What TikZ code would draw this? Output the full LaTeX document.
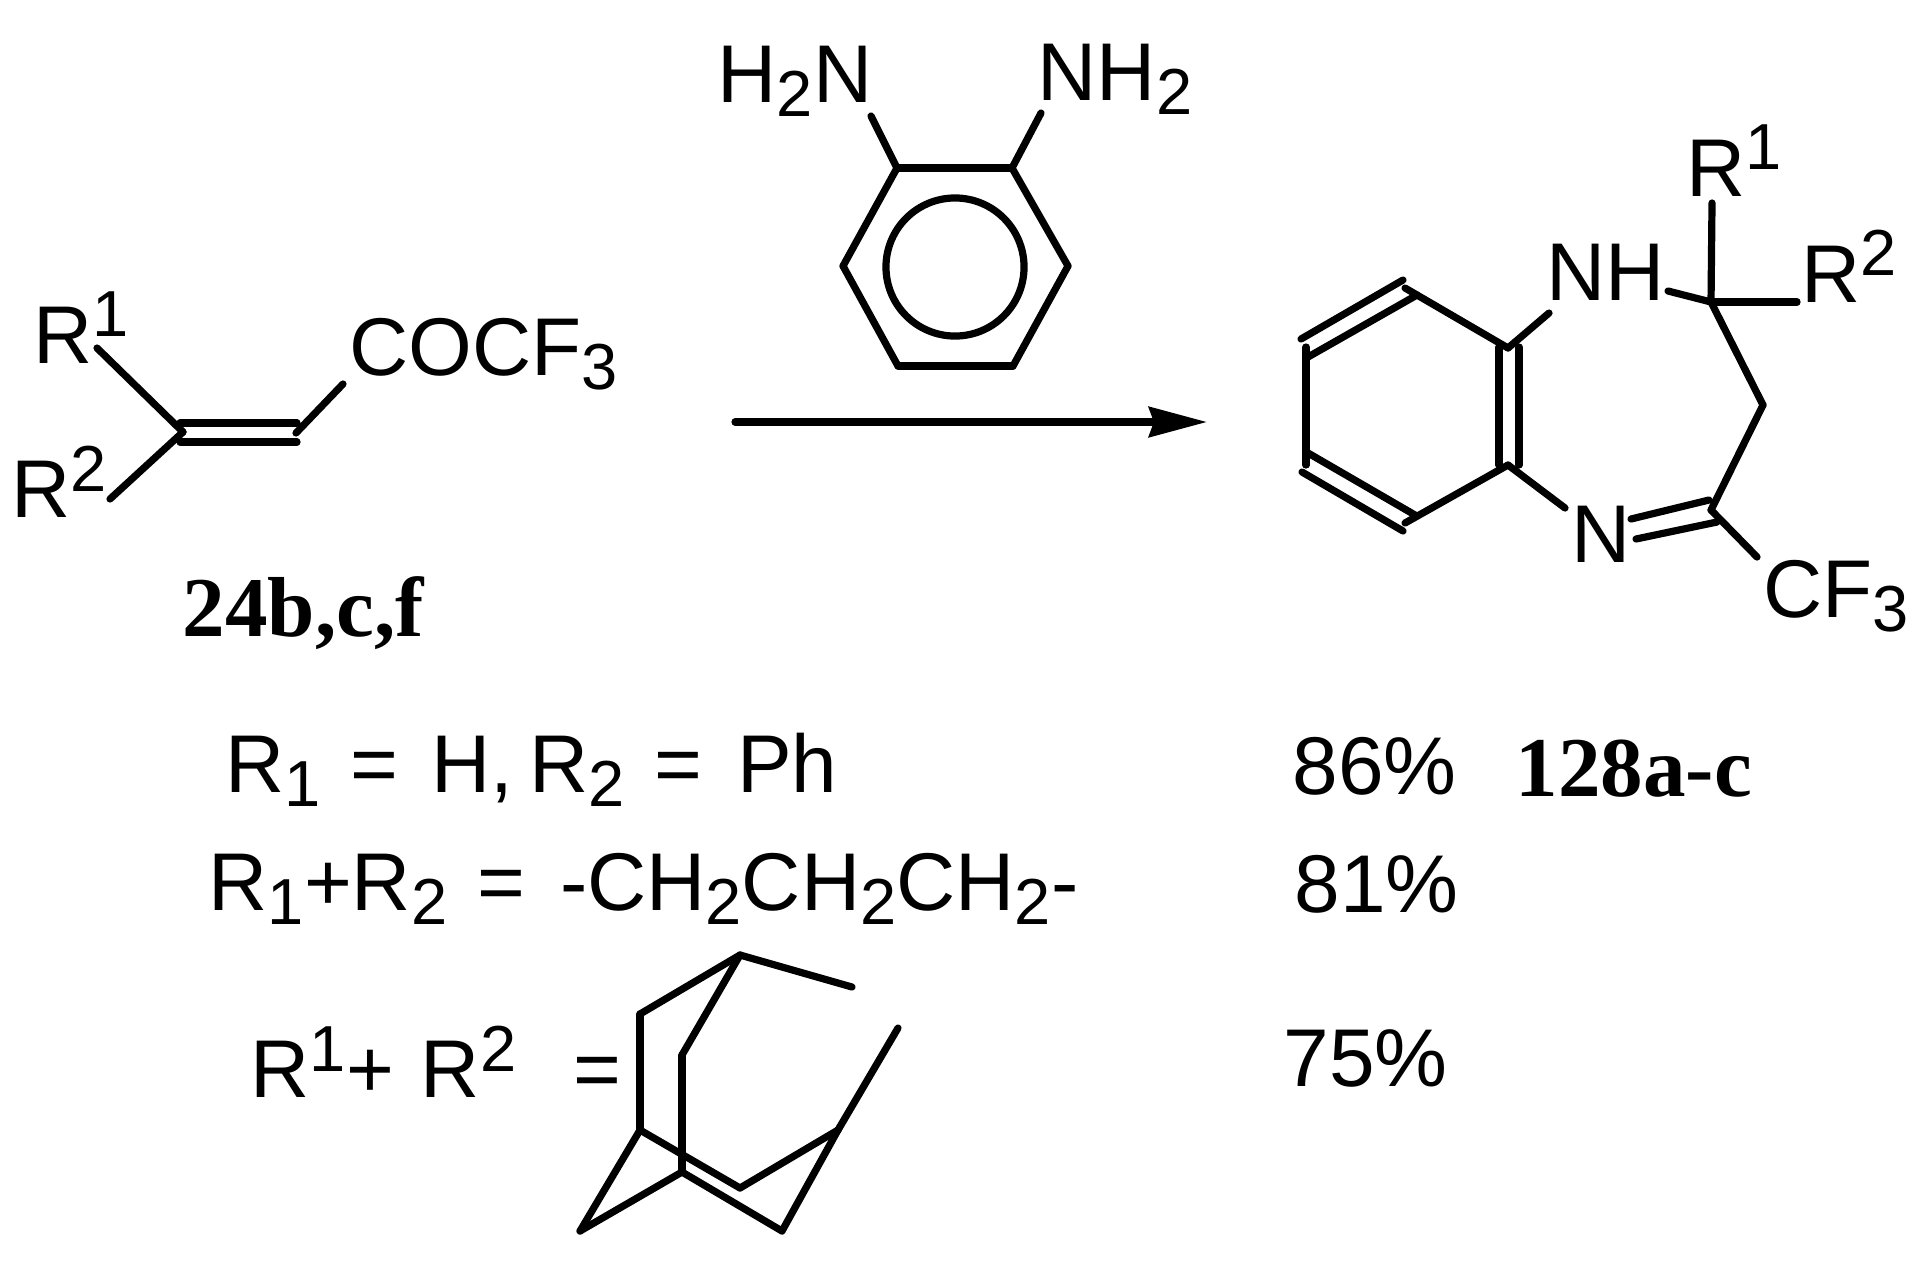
\documentclass[tikz,border=0pt]{standalone}
\usepackage{fontspec}
\setmainfont{Liberation Sans}
\newfontfamily\cmpdfont{Liberation Serif}[Scale=1]
\usetikzlibrary{arrows.meta}
\newcommand{\sbs}[1]{\raisebox{-.14cm}{\fontsize{18.5pt}{18.5pt}\selectfont #1}}
\newcommand{\sps}[1]{\raisebox{.26cm}{\fontsize{18.5pt}{18.5pt}\selectfont #1}}

\begin{document}
\begin{tikzpicture}
[x=.01cm,y=-.01cm]
\tikzset{lab/.style={anchor=base west,inner sep=0,font=\fontsize{23.3pt}{23.3pt}\selectfont}}
\tikzset{cmpd/.style={anchor=base west,inner sep=0,font=\cmpdfont\bfseries\fontsize{24.2pt}{24.2pt}\selectfont}}
\tikzset{bond/.style={line width=.072cm,line cap=round,line join=miter}}
\useasboundingbox (0,0) rectangle (1928,1275);

% enone
\coordinate (e1) at (183,432);
\coordinate (e2) at (97,348);
\coordinate (e3) at (110,499);
\coordinate (e4) at (180,423);
\coordinate (e5) at (297,423);
\coordinate (e6) at (180,442);
\coordinate (e7) at (297,442);
\coordinate (e8) at (296,433);
\coordinate (e9) at (343,384);
\node [lab] (r1a) at (33,363) {R\sps{1}};
\node [lab] (r2a) at (11,517) {R\sps{2}};
\node [lab] (cocf) at (349,375) {COCF\sbs{3}};
\node [cmpd] (c24) at (182,636) {24b,c,f};

% diamine
\coordinate (d1) at (897,168);
\coordinate (d2) at (843,266);
\coordinate (d3) at (898,366);
\coordinate (d4) at (1013,366);
\coordinate (d5) at (1068,266);
\coordinate (d6) at (1012,168);
\coordinate (d7) at (871,116);
\coordinate (d8) at (1041,113);
\node [lab] (hn) at (717,102) {H\sbs{2}N};
\node [lab] (nh) at (1037,100) {NH\sbs{2}};
\node [bond,draw,circle,minimum size=1.38cm,inner sep=0] (ring) at (955,267) {};

% arrow
\coordinate (a1) at (735,422);
\coordinate (a2) at (1207,422);

% benzodiazepine
\coordinate (b1) at (1405,288);
\coordinate (b2) at (1508,348);
\coordinate (b3) at (1508,465);
\coordinate (b4) at (1405,523);
\coordinate (b5) at (1306,465);
\coordinate (b6) at (1306,347);
\coordinate (b7) at (1301,339);
\coordinate (b8) at (1403,280);
\coordinate (b9) at (1308,357);
\coordinate (b10) at (1417,295);
\coordinate (b11) at (1302,472);
\coordinate (b12) at (1403,531);
\coordinate (b13) at (1308,453);
\coordinate (b14) at (1415,515);
\coordinate (b15) at (1499,347);
\coordinate (b16) at (1499,465);
\coordinate (b17) at (1519,347);
\coordinate (b18) at (1519,465);
\coordinate (b19) at (1549,313);
\coordinate (b20) at (1565,508);
\coordinate (b21) at (1668,291);
\coordinate (b22) at (1711,302);
\coordinate (b23) at (1712,203);
\coordinate (b24) at (1797,302);
\coordinate (b25) at (1763,405);
\coordinate (b26) at (1711,510);
\coordinate (b27) at (1757,557);
\coordinate (b28) at (1631,519);
\coordinate (b29) at (1709,500);
\coordinate (b30) at (1636,539);
\coordinate (b31) at (1717,522);
\node [lab] (nh2) at (1546,300) {NH};
\node [lab] (r1b) at (1686,196) {R\sps{1}};
\node [lab] (r2b) at (1801,302) {R\sps{2}};
\node [lab] (n1) at (1571,562) {N};
\node [lab] (cf) at (1763,617) {CF\sbs{3}};

% substituents
\node [lab] (l1) at (225,792) {R\sbs{1}\kern.295cm=\kern.33cm H,\kern.16cm R\sbs{2}\kern.3cm=\kern.345cm Ph};
\node [lab] (l2) at (208,910) {R\sbs{1}+R\sbs{2}\kern.3cm=\kern.35cm -CH\sbs{2}CH\sbs{2}CH\sbs{2}-};
\node [lab] (l3) at (250,1097) {R\sps{1}+\kern.27cm R\sps{2}\kern.575cm=};
\node [lab] (p1) at (1292,794) {86\%};
\node [lab] (p2) at (1294,912) {81\%};
\node [lab] (p3) at (1283,1086) {75\%};
\node [cmpd] (c128) at (1515,796) {128a-c};

% adamantane
\coordinate (k1) at (740,955);
\coordinate (k2) at (640,1014);
\coordinate (k3) at (640,1130);
\coordinate (k4) at (740,1188);
\coordinate (k5) at (838,1130);
\coordinate (k6) at (898,1028);
\coordinate (k7) at (852,987);
\coordinate (k8) at (682,1055);
\coordinate (k9) at (682,1172);
\coordinate (k10) at (580,1231);
\coordinate (k11) at (782,1231);

\foreach \from/\to in {e1/e2,e1/e3,e4/e5,e6/e7,e8/e9,d1/d2,d2/d3,d3/d4,d4/d5,d5/d6,d6/d1,d1/d7,d6/d8,
  b1/b2,b3/b4,b5/b6,b7/b8,b9/b10,b11/b12,b13/b14,b15/b16,b17/b18,b2/b19,b3/b20,b21/b22,b22/b23,b22/b24,
  b22/b25,b25/b26,b26/b27,b28/b29,b30/b31,
  k1/k2,k2/k3,k3/k4,k4/k5,k5/k6,k1/k7,k1/k8,k8/k9,k9/k10,k10/k3,k9/k11,k11/k5}
	\draw [bond] (\from) -- (\to);
\draw [bond,-{Stealth[length=.58cm,width=.3cm,inset=.05cm]}] (a1) -- (a2);
\end{tikzpicture}
\end{document}
